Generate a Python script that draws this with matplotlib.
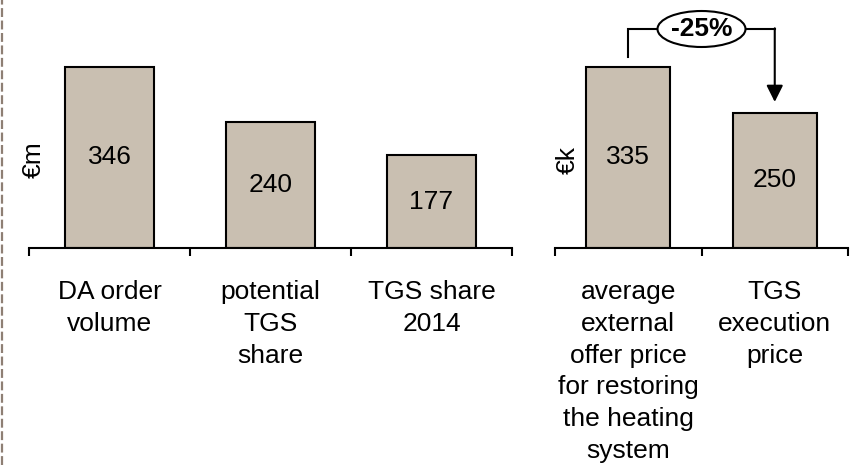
import matplotlib
matplotlib.use("Agg")
import matplotlib.pyplot as plt
from matplotlib.patches import Ellipse
from matplotlib.lines import Line2D

plt.rcParams["font.family"] = ["Liberation Sans", "DejaVu Sans"]

# Left panel: order volume in € million
left_categories = ["DA order\nvolume", "potential\nTGS\nshare", "TGS share\n2014"]
left_values = [346, 240, 177]
left_unit = "€m"

# Right panel: price per job in € thousand
right_categories = ["average\nexternal\noffer price\nfor restoring\nthe heating\nsystem",
                    "TGS\nexecution\nprice"]
right_values = [335, 250]
right_unit = "€k"
change_label = "-25%"

BAR_COLOR = "#C9BFB1"
FS = 19
LW = 1.5
W, H = 850, 465

fig = plt.figure(figsize=(W / 100, H / 100), dpi=100)

base_px = 248      # baseline position (px from top)
top_px = 10        # axes top (px from top)
bar_px = 181       # height of the tallest bar in px


def make_panel(x0, x1, cats, vals, width):
    ax = fig.add_axes([x0 / W, 1 - base_px / H, (x1 - x0) / W, (base_px - top_px) / H])
    n = len(cats)
    ax.set_xlim(-0.5, n - 0.5)
    ax.set_ylim(0, max(vals) * (base_px - top_px) / bar_px)
    xs = list(range(n))
    ax.bar(xs, vals, width=width, color=BAR_COLOR, edgecolor="black", linewidth=LW, zorder=2)
    for x, v in zip(xs, vals):
        ax.text(x, v / 2, str(v), ha="center", va="center", fontsize=FS, zorder=3)
    for s in ("top", "left", "right"):
        ax.spines[s].set_visible(False)
    ax.spines["bottom"].set_linewidth(LW)
    ax.set_yticks([])
    ax.set_xticks(xs)
    ax.set_xticklabels(cats, fontsize=FS, linespacing=1.41, va="top")
    ax.tick_params(axis="x", which="major", length=0, pad=23)
    ax.set_xticks([i - 0.5 for i in range(n + 1)], minor=True)
    ax.tick_params(axis="x", which="minor", length=5.5, width=LW, direction="out")
    return ax


axL = make_panel(29, 512, left_categories, left_values, 0.55)
axR = make_panel(555, 848, right_categories, right_values, 0.57)

fig.text(34 / W, 1 - 160 / H, left_unit, rotation=90, ha="center", va="center", fontsize=FS)
fig.text(568 / W, 1 - 160 / H, right_unit, rotation=90, ha="center", va="center", fontsize=FS)

# Bracket with percentage change between the two right-hand bars
px_unit = max(right_values) / bar_px
level = (base_px - 29) * px_unit
start = right_values[0] + 10 * px_unit
end = right_values[1] + 11 * px_unit
axR.plot([0, 0, 1], [start, level, level], color="black", lw=LW, clip_on=False, zorder=4,
         solid_joinstyle="miter")
axR.annotate("", xy=(1, end), xytext=(1, level + 0.7 * px_unit),
             arrowprops=dict(arrowstyle="-|>,head_length=1.0,head_width=0.5",
                             mutation_scale=10, color="black", lw=LW,
                             shrinkA=0, shrinkB=0),
             annotation_clip=False, zorder=4)
axR.add_patch(Ellipse((0.5, level), width=88 / 146.5, height=36 * px_unit,
                      facecolor="white", edgecolor="black", lw=LW, zorder=5, clip_on=False))
axR.text(0.5, level, change_label, ha="center", va="center", fontsize=FS,
         fontweight="bold", zorder=6)

# Dashed divider on the left edge
fig.add_artist(Line2D([1.5 / W, 1.5 / W], [0, 1], color="#8E7F74", lw=1.6,
                      dashes=(4, 1.6)))

fig.savefig("out.png", dpi=100)
